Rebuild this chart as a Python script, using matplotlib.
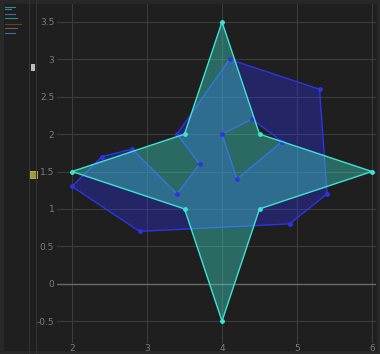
import matplotlib.pyplot as plt
from matplotlib.path import Path
from matplotlib.patches import PathPatch, Rectangle
from matplotlib.lines import Line2D

# star polygon
star_x = [2, 3.5, 4, 4.5, 6, 4.5, 4, 3.5]
star_y = [1.5, 2, 3.5, 2, 1.5, 1, -0.5, 1]

# blue polygon: outer ring and inner hole
outer_x = [4.1, 5.3, 5.4, 4.9, 2.9, 2.0, 2.4, 2.8, 3.4, 3.7, 3.4]
outer_y = [3.0, 2.6, 1.2, 0.8, 0.7, 1.3, 1.7, 1.8, 1.2, 1.6, 2.0]
hole_x = [4.0, 4.2, 4.8, 4.4]
hole_y = [2.0, 1.4, 1.9, 2.2]

x_ticks = [2, 3, 4, 5, 6]
y_ticks = [-0.5, 0, 0.5, 1, 1.5, 2, 2.5, 3, 3.5]

BG = "#1f1f1f"
CYAN = "#3fe3d3"
BLUE = "#2f33e6"

fig = plt.figure(figsize=(3.8, 3.54), dpi=100, facecolor=BG)
W, H = 380, 354

# outer frame, behind everything
fig.add_artist(Rectangle((0, 0), 1, 1, facecolor="none", edgecolor="#282828",
                         linewidth=5, transform=fig.transFigure, zorder=-5))

ax = fig.add_axes([57 / W, 1 - 343 / H, (376 - 57) / W, (343 - 4) / H])
ax.set_facecolor(BG)
ax.set_xlim(1.8, 6.053)
ax.set_ylim(-0.793, 3.74)

for s in ax.spines.values():
    s.set_visible(False)
ax.set_xticks(x_ticks)
ax.set_yticks(y_ticks)
ax.set_xticklabels([str(v) for v in x_ticks])
ax.set_yticklabels([f"{v:g}" for v in y_ticks])
ax.tick_params(length=0, labelsize=6.5, labelcolor="#7c7c7c", pad=2)
ax.tick_params(axis="x", pad=1)
ax.grid(True, color="#3c3c3c", linewidth=0.8)
ax.set_axisbelow(True)
ax.axhline(0, color="#6a6a6a", linewidth=1.0, zorder=1)

# blue shape with hole
verts = list(zip(outer_x, outer_y)) + [(outer_x[0], outer_y[0])]
codes = [Path.MOVETO] + [Path.LINETO] * (len(outer_x) - 1) + [Path.CLOSEPOLY]
verts += list(zip(hole_x, hole_y)) + [(hole_x[0], hole_y[0])]
codes += [Path.MOVETO] + [Path.LINETO] * (len(hole_x) - 1) + [Path.CLOSEPOLY]
ax.add_patch(PathPatch(Path(verts, codes), facecolor=BLUE, alpha=0.35,
                       edgecolor="none", zorder=2))
ax.add_patch(PathPatch(Path(verts, codes), facecolor="none",
                       edgecolor=BLUE, linewidth=1.0, zorder=3))
ax.scatter(outer_x + hole_x, outer_y + hole_y, s=6, color=BLUE, zorder=5)

# star on top
ax.fill(star_x, star_y, color=CYAN, alpha=0.38, linewidth=0, zorder=4)
ax.plot(star_x + star_x[:1], star_y + star_y[:1], color=CYAN, linewidth=1.0, zorder=6)
ax.scatter(star_x, star_y, s=6, color=CYAN, zorder=7)

# vertical zoom slider on the left
for xp in (29, 36):
    fig.add_artist(Line2D([xp / W, xp / W], [0, 1], color="#333333", linewidth=0.8))
fig.add_artist(Rectangle((31 / W, 1 - 71 / H), 4 / W, 7 / H, facecolor="#bdbdbd",
                         edgecolor="none"))
fig.add_artist(Rectangle((29.5 / W, 1 - 178 / H), 7 / W, 7 / H, facecolor="#9a9a3a",
                         edgecolor="#d8d86a", linewidth=0.5))

# tiny toolbox marks top-left
for yy, col, w in [(7, "#2f8f87", 10), (9, "#2f8f87", 6), (14, "#3a6fae", 10),
                   (18, "#2f8f87", 12), (24, "#6e3a32", 16), (28, "#6e5a56", 12),
                   (33, "#3a6fae", 10)]:
    fig.add_artist(Line2D([5 / W, (5 + w) / W], [1 - yy / H, 1 - yy / H],
                          color=col, linewidth=0.8))

fig.savefig("out.png", dpi=100, facecolor=BG)
